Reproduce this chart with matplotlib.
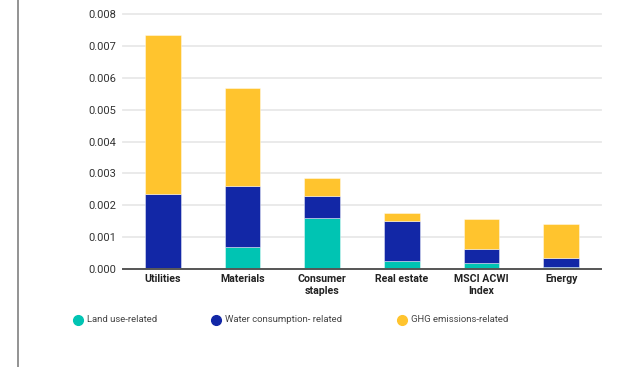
import matplotlib
matplotlib.use("Agg")
import matplotlib.pyplot as plt
from matplotlib.lines import Line2D
import numpy as np

plt.rcParams['font.family'] = ['Roboto', 'DejaVu Sans']

categories = ["Utilities", "Materials", "Consumer\nstaples", "Real estate",
              "MSCI ACWI\nIndex", "Energy"]
# Cumulative tops of each stacked segment
land_use = [0.00002, 0.00069, 0.00158, 0.00024, 0.00017, 0.00006]
water_top = [0.00236, 0.00259, 0.00230, 0.00151, 0.00062, 0.00033]
total_top = [0.00734, 0.00568, 0.00284, 0.00174, 0.00155, 0.00141]
yticks = [0.000, 0.001, 0.002, 0.003, 0.004, 0.005, 0.006, 0.007, 0.008]

land = np.array(land_use)
water = np.array(water_top) - land
ghg = np.array(total_top) - np.array(water_top)

c_land = "#00C4B3"
c_water = "#1227A6"
c_ghg = "#FFC42E"

fig = plt.figure(figsize=(6.32, 3.67), dpi=100)
ax = fig.add_axes([123 / 632, 1 - 268.7 / 367, (601 - 123) / 632, (268.7 - 14.3) / 367])

x = np.arange(len(categories))
w = 0.45
ec = (1, 1, 1, 0.5)
ax.bar(x, land, w, color=c_land, edgecolor=ec, linewidth=0.6, zorder=3)
ax.bar(x, water, w, bottom=land, color=c_water, edgecolor=ec, linewidth=0.6, zorder=3)
ax.bar(x, ghg, w, bottom=land + water, color=c_ghg, edgecolor=ec, linewidth=0.6, zorder=3)

ax.set_xlim(-0.5, 5.5)
ax.set_ylim(0, 0.008)
ax.set_yticks(yticks)
ax.set_yticklabels([f"{v:.3f}" for v in yticks], fontsize=8, color="#333333")
ax.set_xticks(x)
ax.set_xticklabels(categories, fontsize=7.6, fontweight="bold", color="#222222",
                   linespacing=1.25)
ax.tick_params(axis="y", length=0, pad=5)
ax.tick_params(axis="x", length=0, pad=4)

ax.grid(axis="y", color="#e8e8e8", linewidth=1.3, zorder=0)
ax.set_axisbelow(True)
for s in ["top", "right", "left"]:
    ax.spines[s].set_visible(False)
ax.spines["bottom"].set_color("#555555")
ax.spines["bottom"].set_linewidth(1.4)
ax.spines["bottom"].set_zorder(4)
for gl in ax.get_ygridlines():
    gl.set_clip_on(False)

# Legend entries
leg_items = [("Land use-related", c_land, 78), ("Water consumption- related", c_water, 216),
             ("GHG emissions-related", c_ghg, 402)]
for label, col, px in leg_items:
    fig.add_artist(Line2D([px / 632], [1 - 320 / 367], marker="o", markersize=7,
                          color=col, linestyle="none", transform=fig.transFigure))
    fig.text((px + 9) / 632, 1 - 320 / 367, label, fontsize=6.8, color="#444444",
             va="center", ha="left")

# Left border rule
fig.add_artist(Line2D([18 / 632, 18 / 632], [0, 1], color="#8a8a8a", linewidth=1.3,
                      transform=fig.transFigure))

fig.savefig("out.png", dpi=100)
